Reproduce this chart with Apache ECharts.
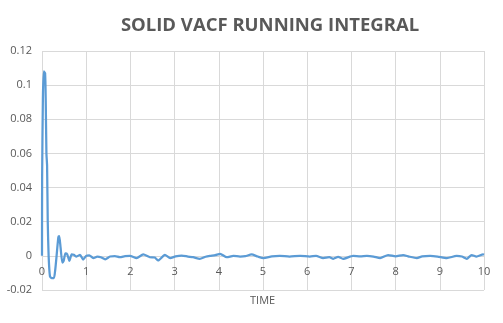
<!DOCTYPE html>
<html>
<head>
<meta charset="utf-8">
<script src="https://cdn.jsdelivr.net/npm/echarts@6/dist/echarts.min.js"></script>
<style>
  html, body { margin: 0; padding: 0; background: #ffffff; }
  #chart { width: 503px; height: 323px; }
</style>
</head>
<body>
<div id="chart"></div>
<script>
// Running integral of the solid velocity autocorrelation function
const chartTitle = 'SOLID VACF RUNNING INTEGRAL';
const xAxisTitle = 'TIME';

const times = [
  0, 0.003, 0.02, 0.04, 0.07, 0.085, 0.1, 0.115, 0.13, 0.15,
  0.18, 0.22, 0.27, 0.3, 0.33, 0.37, 0.39, 0.42, 0.46, 0.49,
  0.53, 0.57, 0.62, 0.67, 0.72, 0.78, 0.86, 0.93, 1.0, 1.07,
  1.16, 1.25, 1.33, 1.43, 1.54, 1.65, 1.76, 1.88, 1.99, 2.14,
  2.29, 2.44, 2.55, 2.63, 2.78, 2.9, 3.02, 3.16, 3.3, 3.42,
  3.57, 3.7, 3.8, 3.92, 4.03, 4.18, 4.33, 4.48, 4.6, 4.74,
  4.88, 5.01, 5.2, 5.38, 5.6, 5.84, 6.06, 6.2, 6.36, 6.5,
  6.59, 6.7, 6.81, 7.04, 7.2, 7.35, 7.5, 7.65, 7.83, 8.0,
  8.17, 8.3, 8.48, 8.6, 8.78, 8.95, 9.16, 9.38, 9.5, 9.61,
  9.72, 9.83, 9.98, 10
];

const integral = [
  0, 0.046, 0.092, 0.108, 0.107, 0.09, 0.06, 0.053, 0.02, 0.0,
  -0.012, -0.013, -0.013, -0.008, 0.0, 0.011, 0.0115, 0.005, -0.004, -0.003,
  0.0015, 0.001, -0.003, 0.0008, 0.0006, -0.0004, 0.0006, -0.0022, 0.0, 0.0003,
  -0.0013, -0.0005, -0.0008, -0.002, -0.0004, -0.0002, -0.0008, -0.0002, 0.0, -0.0013,
  0.0008, -0.0008, -0.001, -0.0027, 0.0006, -0.0013, -0.0003, 0.0002, -0.0004, -0.0008,
  -0.0017, -0.0005, 0.0, 0.0004, 0.0012, -0.0008, 0.0, -0.0004, -0.0002, 0.0008,
  -0.0004, -0.0013, -0.0003, 0.0, -0.0004, 0.0, -0.0004, 0.0, -0.0013, -0.0008,
  -0.0017, -0.0006, -0.0017, 0.0, -0.0003, 0.0, -0.0004, -0.0013, 0.0005, -0.0003,
  0.0005, -0.0004, -0.0013, -0.0003, 0.0, -0.0004, -0.0013, 0.0, -0.0004, -0.0017,
  0.0005, -0.0004, 0.0008, 0.0006
];

const seriesData = times.map((t, i) => [t, integral[i]]);

const chart = echarts.init(document.getElementById('chart'), null, { renderer: 'canvas' });
chart.setOption({
  animation: false,
  backgroundColor: '#ffffff',
  title: {
    text: chartTitle,
    left: 265,
    top: 11,
    textAlign: 'center',
    textStyle: {
      fontFamily: 'Open Sans',
      fontWeight: 'bold',
      fontSize: 18.5,
      color: '#595959'
    }
  },
  graphic: [{
    type: 'text',
    left: 250,
    top: 295,
    style: {
      text: xAxisTitle,
      font: '11px "Open Sans"',
      fill: '#595959'
    }
  }],
  grid: { left: 42, right: 19, top: 51, bottom: 33, containLabel: false },
  xAxis: {
    type: 'value',
    min: 0,
    max: 10,
    interval: 1,
    axisLine: { show: true, lineStyle: { color: '#d9d9d9', width: 1 } },
    axisTick: { show: false },
    splitLine: { show: true, lineStyle: { color: '#d9d9d9', width: 1 } },
    // tick labels sit just under the zero line, as the axis crosses at 0
    axisLabel: {
      color: '#595959',
      fontFamily: 'Open Sans',
      fontSize: 11,
      margin: -24
    }
  },
  yAxis: {
    type: 'value',
    min: -0.02,
    max: 0.12,
    interval: 0.02,
    axisLine: { show: false },
    axisTick: { show: false },
    splitLine: { show: true, lineStyle: { color: '#d9d9d9', width: 1 } },
    axisLabel: {
      color: '#595959',
      fontFamily: 'Open Sans',
      fontSize: 11,
      margin: 10
    }
  },
  series: [{
    type: 'line',
    data: seriesData,
    showSymbol: false,
    smooth: 0.2,
    z: 3,
    lineStyle: { color: '#5b9bd5', width: 2.25 },
    itemStyle: { color: '#5b9bd5' }
  }]
});
</script>
</body>
</html>
